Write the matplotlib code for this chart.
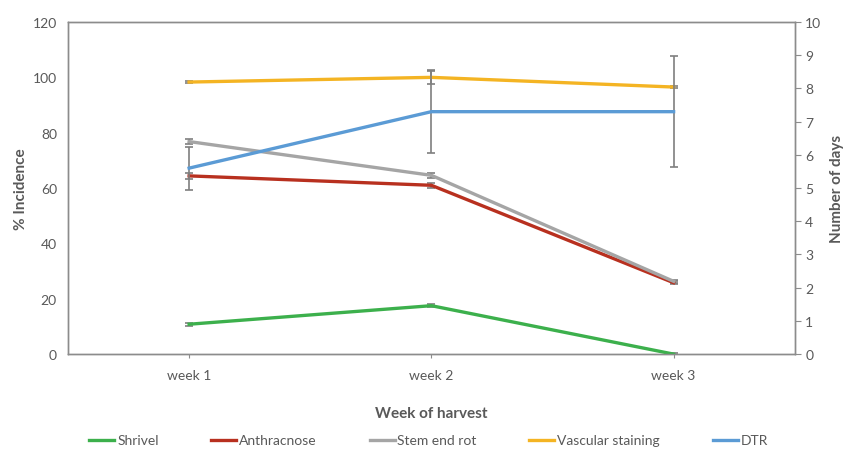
import numpy as np
import matplotlib.pyplot as plt

plt.rcParams['font.family'] = ['Lato', 'DejaVu Sans']

weeks = ['week 1', 'week 2', 'week 3']

shrivel = [10.8, 17.5, 0.0]
anthracnose = [64.4, 61.0, 25.8]
stem_end_rot = [76.8, 64.6, 26.3]
vascular = [98.3, 100.0, 96.5]
dtr = [5.6, 7.3, 7.3]  # number of days, right axis

shrivel_err = [0.5, 0.5, 0.3]
anthracnose_err = [1.0, 1.0, 0.5]
stem_end_rot_err = [1.0, 1.0, 0.5]
vascular_err = [0.5, 2.5, 0.5]
dtr_err = [0.65, 1.23, 1.67]

text_col = '#595959'
err_col = '#7f7f7f'

fig = plt.figure(figsize=(8.52, 4.6), dpi=100)
ax = fig.add_axes([0.0798, 0.228, 0.853, 0.722])
ax2 = ax.twinx()

x = np.arange(len(weeks))
series = [
    ('Shrivel', shrivel, shrivel_err, '#3cb04c'),
    ('Anthracnose', anthracnose, anthracnose_err, '#b8301f'),
    ('Stem end rot', stem_end_rot, stem_end_rot_err, '#a5a5a5'),
    ('Vascular staining', vascular, vascular_err, '#f4b423'),
]
handles = []
for name, vals, err, col in series:
    ax.errorbar(x, vals, yerr=err, color=err_col, lw=0, elinewidth=1.2,
                capsize=3, capthick=1.2, zorder=2)
    h, = ax.plot(x, vals, color=col, lw=2.4, label=name, zorder=3)
    handles.append(h)

ax2.errorbar(x, dtr, yerr=dtr_err, color=err_col, lw=0, elinewidth=1.2,
             capsize=3, capthick=1.2, zorder=2)
h, = ax2.plot(x, dtr, color='#5b9bd5', lw=2.4, label='DTR', zorder=3)
handles.append(h)

ax.set_xlim(-0.5, 2.5)
ax.set_ylim(0, 120)
ax.set_yticks(range(0, 121, 20))
ax2.set_ylim(0, 10)
ax2.set_yticks(range(0, 11))
ax.set_xticks(x)
ax.set_xticklabels(weeks)

for a in (ax, ax2):
    for s in a.spines.values():
        s.set_color('#8c8c8c')
        s.set_linewidth(1.0)
    a.tick_params(colors=text_col, labelsize=10)
ax.tick_params(axis='y', length=0, pad=8)
ax.tick_params(axis='x', length=3, color='#8c8c8c', pad=8)
ax2.tick_params(axis='y', length=4, color='#8c8c8c', direction='out')

ax.set_ylabel('% Incidence', color=text_col, fontsize=11, fontweight='bold', labelpad=3)
ax2.set_ylabel('Number of days', color=text_col, fontsize=11, fontweight='bold', labelpad=6)
ax.set_xlabel('Week of harvest', color=text_col, fontsize=11, fontweight='bold', labelpad=18)

leg = fig.legend(handles=handles, loc='lower center', ncol=5, frameon=False,
                 bbox_to_anchor=(0.503, 0.0), fontsize=10, handlelength=1.8,
                 handletextpad=0.2, columnspacing=3.8)
for t in leg.get_texts():
    t.set_color(text_col)

fig.savefig('out.png', dpi=100)
